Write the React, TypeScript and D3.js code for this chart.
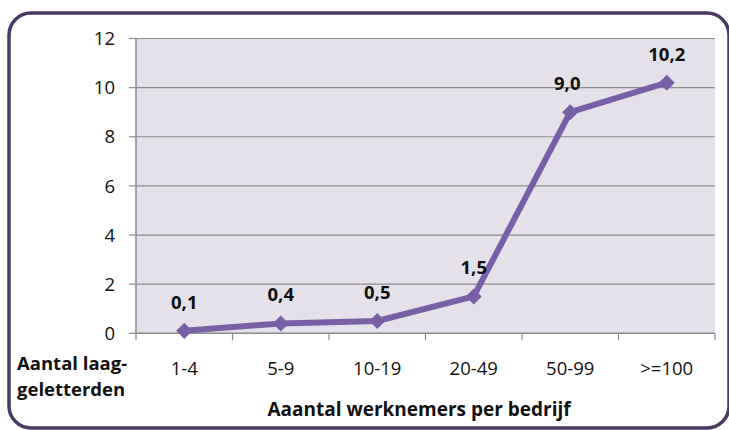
import React from "react";
import * as d3 from "d3";

const categories = ["1-4", "5-9", "10-19", "20-49", "50-99", ">=100"];
const values = [0.1, 0.4, 0.5, 1.5, 9.0, 10.2];
const valueLabels = ["0,1", "0,4", "0,5", "1,5", "9,0", "10,2"];
const yTicks = [0, 2, 4, 6, 8, 10, 12];
const xTitle = "Aaantal werknemers per bedrijf";
const yTitleLines = ["Aantal laag-", "geletterden"];

const W = 729;
const H = 430;
const left = 136;
const right = 715;
const top = 38.5;
const bottom = 333.3;
const font = "'Open Sans', Lato, sans-serif";
const ink = "#111";

export default function App() {
  const x = d3.scaleBand<string>().domain(categories).range([left, right]).padding(0);
  const y = d3.scaleLinear().domain([0, 12]).range([bottom, top]);
  const cx = (c: string) => (x(c) as number) + x.bandwidth() / 2;
  const line = d3
    .line<number>()
    .x((_, i) => cx(categories[i]))
    .y((d) => y(d));
  const diamond = d3.symbol().type(d3.symbolDiamond2).size(165)();
  const boundaries = [...categories.map((c) => x(c) as number), right];

  return (
    <svg
      width={W}
      height={H}
      style={{ position: "absolute", left: 0, top: 0, background: "#fff" }}
    >
      <rect x={9} y={13} width={720} height={H - 15} rx={22} ry={22} fill="#fff" stroke="#4a3a62" strokeWidth={3.5} />
      <rect x={left} y={top} width={right - left} height={bottom - top} fill="#e4e1ea" />
      {yTicks.map((t) => (
        <g key={t}>
          {t > 0 && <line x1={left} x2={right} y1={y(t)} y2={y(t)} stroke="#8c8c8c" strokeWidth={1.2} />}
          <line x1={left - 7} x2={left} y1={y(t)} y2={y(t)} stroke="#8c8c8c" strokeWidth={1.2} />
          <text x={115} y={y(t)} dy="0.36em" textAnchor="end" fontFamily={font} fontSize={18.5} fill={ink}>
            {t}
          </text>
        </g>
      ))}
      <line x1={left} x2={left} y1={top} y2={bottom} stroke="#8c8c8c" strokeWidth={1.5} />
      <line x1={left} x2={right} y1={bottom} y2={bottom} stroke="#8c8c8c" strokeWidth={1.5} />
      {boundaries.map((b, i) => (
        <line key={i} x1={b} x2={b} y1={bottom} y2={bottom + 7} stroke="#8c8c8c" strokeWidth={1.2} />
      ))}
      {categories.map((c) => (
        <text key={c} x={cx(c)} y={375} textAnchor="middle" fontFamily={font} fontSize={18.5} fill={ink}>
          {c}
        </text>
      ))}
      <path d={line(values) || ""} fill="none" stroke="#7860a8" strokeWidth={6} strokeLinejoin="round" />
      {values.map((v, i) => (
        <path key={i} d={diamond || ""} transform={`translate(${cx(categories[i])},${y(v)})`} fill="#7860a8" />
      ))}
      {values.map((v, i) => (
        <text
          key={"l" + i}
          x={cx(categories[i]) + (i === 4 ? -3 : 0)}
          y={y(v) - 22}
          textAnchor="middle"
          fontFamily={font}
          fontWeight="bold"
          fontSize={18.5}
          fill={ink}
        >
          {valueLabels[i]}
        </text>
      ))}
      {yTitleLines.map((t, i) => (
        <text key={t} x={17} y={370 + i * 26} fontFamily={font} fontWeight="bold" fontSize={18.5} fill={ink}>
          {t}
        </text>
      ))}
      <text x={419} y={416} textAnchor="middle" fontFamily={font} fontWeight="bold" fontSize={19} fill={ink}>
        {xTitle}
      </text>
    </svg>
  );
}
